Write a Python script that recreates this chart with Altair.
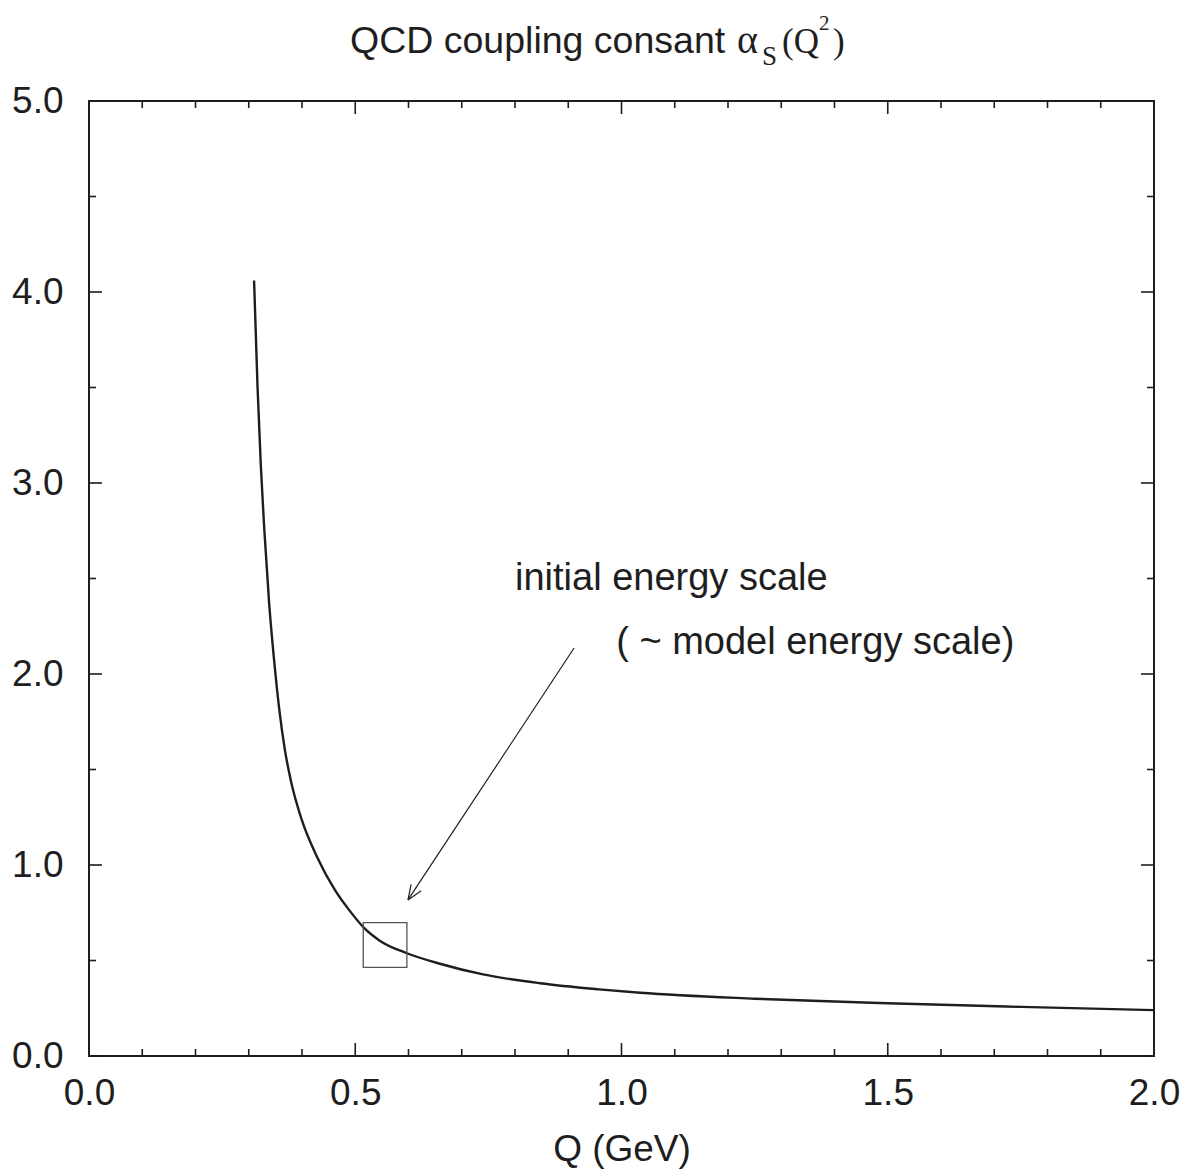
import altair as alt
import pandas as pd
import math

# ---- data ----
Q_VALUES = [0.310, 0.3164, 0.3227, 0.3289, 0.3383, 0.3477, 0.3571, 0.368, 0.379,
            0.399, 0.429, 0.462, 0.493, 0.516, 0.546, 0.597, 0.659, 0.740, 0.847,
            0.958, 1.035, 1.25, 1.50, 1.75, 2.00]
ALPHA_VALUES = [4.06, 3.51, 3.09, 2.77, 2.37, 2.07, 1.82, 1.60, 1.443,
                1.241, 1.038, 0.868, 0.748, 0.672, 0.604, 0.538, 0.483, 0.427, 0.381,
                0.349, 0.331, 0.300, 0.276, 0.257, 0.240]

X_MAJOR = [0.0, 0.5, 1.0, 1.5, 2.0]
X_MINOR = [0.1, 0.2, 0.3, 0.4, 0.6, 0.7, 0.8, 0.9, 1.1, 1.2, 1.3, 1.4, 1.6, 1.7, 1.8, 1.9]
Y_MAJOR = [0.0, 1.0, 2.0, 3.0, 4.0, 5.0]
Y_MINOR = [0.5, 1.5, 2.5, 3.5, 4.5]

BOX_Q = [0.515, 0.597]
BOX_ALPHA = [0.464, 0.698]

ARROW_TAIL = [0.911, 2.136]
ARROW_TIP = [0.599, 0.817]

NOTE_1 = "initial energy scale"
NOTE_1_POS = [0.800, 2.44]
NOTE_2 = "( ~ model energy scale)"
NOTE_2_POS = [0.990, 2.105]

W, H = 1065, 955
XMAX, YMAX = 2.0, 5.0
INK = "#1e1e1e"
SANS = "Liberation Sans"
SERIF = "Liberation Serif"

xs = alt.Scale(domain=[0, XMAX], nice=False, zero=False)
ys = alt.Scale(domain=[0, YMAX], nice=False, zero=False)

curve_df = pd.DataFrame({"Q": Q_VALUES, "a": ALPHA_VALUES})

curve = alt.Chart(curve_df).mark_line(
    interpolate="monotone", color=INK, strokeWidth=2.4
).encode(
    x=alt.X("Q:Q", scale=xs,
            axis=alt.Axis(values=X_MAJOR, format=".1f", title="Q (GeV)",
                          ticks=False, domain=False, grid=False,
                          labelFontSize=37, labelFont=SANS, labelColor=INK,
                          labelPadding=19, titleFontSize=37, titleFont=SANS,
                          titleFontWeight="normal", titleColor=INK,
                          titlePadding=20, labelFlush=False)),
    y=alt.Y("a:Q", scale=ys,
            axis=alt.Axis(values=Y_MAJOR, format=".1f", title=None,
                          ticks=False, domain=False, grid=False,
                          labelFontSize=37, labelFont=SANS, labelColor=INK,
                          labelPadding=26, labelFlush=False)),
)

# ---- inward ticks on all four sides ----
def xticks(vals, length):
    df = pd.DataFrame({"v": vals})
    bot = alt.Chart(df).mark_rule(color=INK, strokeWidth=1.6).encode(
        x=alt.X("v:Q", scale=xs), y=alt.value(H), y2=alt.value(H - length))
    top = alt.Chart(df).mark_rule(color=INK, strokeWidth=1.6).encode(
        x=alt.X("v:Q", scale=xs), y=alt.value(0), y2=alt.value(length))
    return [bot, top]

def yticks(vals, length):
    df = pd.DataFrame({"v": vals})
    left = alt.Chart(df).mark_rule(color=INK, strokeWidth=1.6).encode(
        y=alt.Y("v:Q", scale=ys), x=alt.value(0), x2=alt.value(length))
    right = alt.Chart(df).mark_rule(color=INK, strokeWidth=1.6).encode(
        y=alt.Y("v:Q", scale=ys), x=alt.value(W), x2=alt.value(W - length))
    return [left, right]

tick_layers = xticks(X_MAJOR, 13) + xticks(X_MINOR, 7) + yticks(Y_MAJOR, 13) + yticks(Y_MINOR, 7)

# ---- box around the initial scale ----
box_df = pd.DataFrame({"q1": [BOX_Q[0]], "q2": [BOX_Q[1]], "a1": [BOX_ALPHA[0]], "a2": [BOX_ALPHA[1]]})
box = alt.Chart(box_df).mark_rect(fill=None, stroke="#555555", strokeWidth=1.3).encode(
    x=alt.X("q1:Q", scale=xs), x2="q2", y=alt.Y("a1:Q", scale=ys), y2="a2")

# ---- arrow ----
px_per_q = W / XMAX
px_per_a = H / YMAX
dxp = (ARROW_TAIL[0] - ARROW_TIP[0]) * px_per_q
dyp = (ARROW_TAIL[1] - ARROW_TIP[1]) * px_per_a
ang = math.atan2(dyp, dxp)
head_len, head_ang = 16, math.radians(22)
segs = [(ARROW_TAIL[0], ARROW_TAIL[1], ARROW_TIP[0], ARROW_TIP[1])]
for s in (-1, 1):
    a = ang + s * head_ang
    segs.append((ARROW_TIP[0], ARROW_TIP[1],
                 ARROW_TIP[0] + head_len * math.cos(a) / px_per_q,
                 ARROW_TIP[1] + head_len * math.sin(a) / px_per_a))
arrow_df = pd.DataFrame(segs, columns=["x1", "y1", "x2", "y2"])
arrow = alt.Chart(arrow_df).mark_rule(color=INK, strokeWidth=1.2).encode(
    x=alt.X("x1:Q", scale=xs), y=alt.Y("y1:Q", scale=ys), x2="x2", y2="y2")

# ---- annotation text ----
notes_df = pd.DataFrame({"x": [NOTE_1_POS[0], NOTE_2_POS[0]],
                         "y": [NOTE_1_POS[1], NOTE_2_POS[1]],
                         "t": [NOTE_1, NOTE_2]})
notes = alt.Chart(notes_df).mark_text(
    align="left", baseline="alphabetic", font=SANS, fontSize=38, color=INK
).encode(x=alt.X("x:Q", scale=xs), y=alt.Y("y:Q", scale=ys), text="t:N")

# ---- title (mixed fonts) ----
one = pd.DataFrame({"k": [0]})
def tpiece(text, x, y, font, size):
    return alt.Chart(one).mark_text(
        text=text, align="left", baseline="alphabetic", font=font,
        fontSize=size, color=INK
    ).encode(x=alt.value(x), y=alt.value(y))

title_layers = [
    tpiece("QCD coupling consant", 261, -48, SANS, 37.5),
    tpiece("\u03b1", 648, -48, SERIF, 40),
    tpiece("S", 673, -36, SERIF, 27),
    tpiece("(Q", 693, -48, SERIF, 35),
    tpiece("2", 730, -71, SERIF, 21),
    tpiece(")", 744, -48, SERIF, 35),
]

chart = alt.layer(curve, box, arrow, notes, *tick_layers, *title_layers).properties(
    width=W, height=H,
    autosize=alt.AutoSizeParams(type="none"),
    padding={"left": 89, "top": 101, "right": 30, "bottom": 113},
    background="white",
).configure_view(stroke=INK, strokeWidth=2)

chart.save("out.html", embed_options={"renderer": "svg", "actions": False})
